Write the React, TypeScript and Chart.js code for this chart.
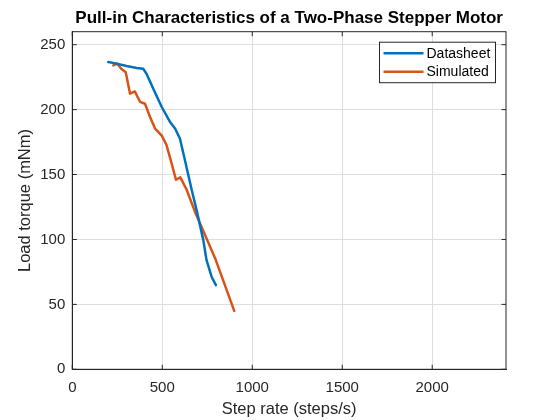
import React, { useEffect, useRef } from "react";
import { Chart, registerables, Plugin } from "chart.js";

Chart.register(...registerables);

// Datasheet curve (step rate in steps/s, load torque in mNm)
const datasheetRate = [200, 246, 302, 358, 394, 413, 450, 497, 543, 571, 598, 626, 663, 691, 728, 746, 774, 798];
const datasheetTorque = [236.6, 235.4, 233.6, 232, 231.5, 227.5, 216, 202, 190.5, 185.5, 177.7, 161, 138.5, 122.5, 99.5, 84, 71.3, 64.8];

// Simulated curve
const simulatedRate = [228, 250, 272, 297, 321, 348, 376, 404, 432, 460, 497, 524, 552, 576, 600, 635, 682, 746, 794, 900];
const simulatedTorque = [234, 235.4, 231.5, 228.8, 212.3, 214, 206, 204.5, 194.3, 185.4, 180, 172.5, 158.5, 146, 147.8, 138.5, 121.2, 100.8, 85.4, 45];

const seriesNames = ["Datasheet", "Simulated"];
const seriesColors = ["#0072BD", "#D95319"];

const xTicks = [0, 500, 1000, 1500, 2000];
const yTicks = [0, 50, 100, 150, 200, 250];

const FONT = "'Liberation Sans', Arial, Helvetica, sans-serif";
const AXIS_COLOR = "#262626";

// box round the axes with inward tick marks, like MATLAB
const boxPlugin: Plugin = {
	id: "axesBox",
	afterDatasetsDraw(chart) {
		const { ctx, chartArea: a, scales } = chart;
		ctx.save();
		ctx.strokeStyle = AXIS_COLOR;
		ctx.lineWidth = 1;
		ctx.strokeRect(a.left, a.top, a.right - a.left, a.bottom - a.top);
		const len = 4.5;
		ctx.beginPath();
		xTicks.forEach((v) => {
			const px = scales.x.getPixelForValue(v);
			ctx.moveTo(px, a.bottom);
			ctx.lineTo(px, a.bottom - len);
			ctx.moveTo(px, a.top);
			ctx.lineTo(px, a.top + len);
		});
		yTicks.forEach((v) => {
			const py = scales.y.getPixelForValue(v);
			ctx.moveTo(a.left, py);
			ctx.lineTo(a.left + len, py);
			ctx.moveTo(a.right, py);
			ctx.lineTo(a.right - len, py);
		});
		ctx.stroke();
		ctx.restore();
	},
};

// legend box inside the axes, top right
const legendPlugin: Plugin = {
	id: "insideLegend",
	afterDraw(chart) {
		const { ctx, chartArea: a } = chart;
		const right = a.right - 10.5;
		const top = a.top + 10.5;
		const w = 116;
		const rowH = 18.5;
		const h = 40.5;
		const left = right - w;
		ctx.save();
		ctx.fillStyle = "#ffffff";
		ctx.fillRect(left, top, w, h);
		ctx.strokeStyle = AXIS_COLOR;
		ctx.lineWidth = 1;
		ctx.strokeRect(left, top, w, h);
		ctx.font = `14px ${FONT}`;
		ctx.textBaseline = "middle";
		ctx.textAlign = "left";
		seriesNames.forEach((name, i) => {
			const y = top + 11 + i * rowH;
			ctx.strokeStyle = seriesColors[i];
			ctx.lineWidth = 2.5;
			ctx.beginPath();
			ctx.moveTo(left + 4, y);
			ctx.lineTo(left + 44, y);
			ctx.stroke();
			ctx.fillStyle = "#000000";
			ctx.fillText(name, left + 47, y + 0.5);
		});
		ctx.restore();
	},
};

const App: React.FC = () => {
	const canvasRef = useRef<HTMLCanvasElement | null>(null);

	useEffect(() => {
		document.body.style.margin = "0";
		if (!canvasRef.current) return;
		const ctx = canvasRef.current.getContext("2d");
		if (!ctx) return;

		const chart = new Chart(ctx, {
			type: "scatter",
			data: {
				datasets: [
					{
						label: seriesNames[0],
						data: datasheetRate.map((x, i) => ({ x, y: datasheetTorque[i] })),
						borderColor: seriesColors[0],
						backgroundColor: seriesColors[0],
					},
					{
						label: seriesNames[1],
						data: simulatedRate.map((x, i) => ({ x, y: simulatedTorque[i] })),
						borderColor: seriesColors[1],
						backgroundColor: seriesColors[1],
					},
				].map((d) => ({
					...d,
					showLine: true,
					borderWidth: 2.5,
					pointRadius: 0,
					pointHoverRadius: 0,
					borderJoinStyle: "round" as const,
					borderCapStyle: "round" as const,
				})),
			},
			options: {
				animation: false,
				responsive: false,
				devicePixelRatio: 1,
				layout: { padding: { left: 0, right: 54, top: 0, bottom: 0 } },
				plugins: {
					legend: { display: false },
					tooltip: { enabled: false },
					title: {
						display: true,
						fullSize: false,
						text: "Pull-in Characteristics of a Two-Phase Stepper Motor",
						color: "#000000",
						font: { family: FONT, size: 17, weight: "bold", lineHeight: 1.2 },
						padding: { top: 7.8, bottom: 3.5 },
					},
				},
				scales: {
					x: {
						type: "linear",
						min: 0,
						max: 2410,
						afterFit: (s) => {
							s.height = 50.7;
						},
						afterBuildTicks: (s) => {
							s.ticks = xTicks.map((value) => ({ value }));
						},
						ticks: {
							color: AXIS_COLOR,
							padding: 10,
							maxRotation: 0,
							autoSkip: false,
							font: { family: FONT, size: 15 },
							callback: (v) => String(v),
						},
						grid: { color: "#dedede", drawTicks: false },
						border: { color: AXIS_COLOR, width: 1 },
						title: {
							display: true,
							text: "Step rate (steps/s)",
							color: AXIS_COLOR,
							font: { family: FONT, size: 16.5, lineHeight: 1.2 },
							padding: { top: 0, bottom: 1 },
						},
					},
					y: {
						type: "linear",
						min: 0,
						max: 260,
						afterFit: (s) => {
							s.width = 72.3;
						},
						afterBuildTicks: (s) => {
							s.ticks = yTicks.map((value) => ({ value }));
						},
						ticks: {
							color: AXIS_COLOR,
							padding: 7,
							autoSkip: false,
							font: { family: FONT, size: 15 },
							callback: (v) => String(v),
						},
						grid: { color: "#dedede", drawTicks: false },
						border: { color: AXIS_COLOR, width: 1 },
						title: {
							display: true,
							text: "Load torque (mNm)",
							color: AXIS_COLOR,
							font: { family: FONT, size: 16.5, lineHeight: 1.2 },
							padding: { top: 16, bottom: 0 },
						},
					},
				},
			},
			plugins: [boxPlugin, legendPlugin],
		});

		return () => {
			chart.destroy();
		};
	}, []);

	return <canvas ref={canvasRef} width={560} height={420} style={{ display: "block", width: 560, height: 420 }} />;
};

export default App;
